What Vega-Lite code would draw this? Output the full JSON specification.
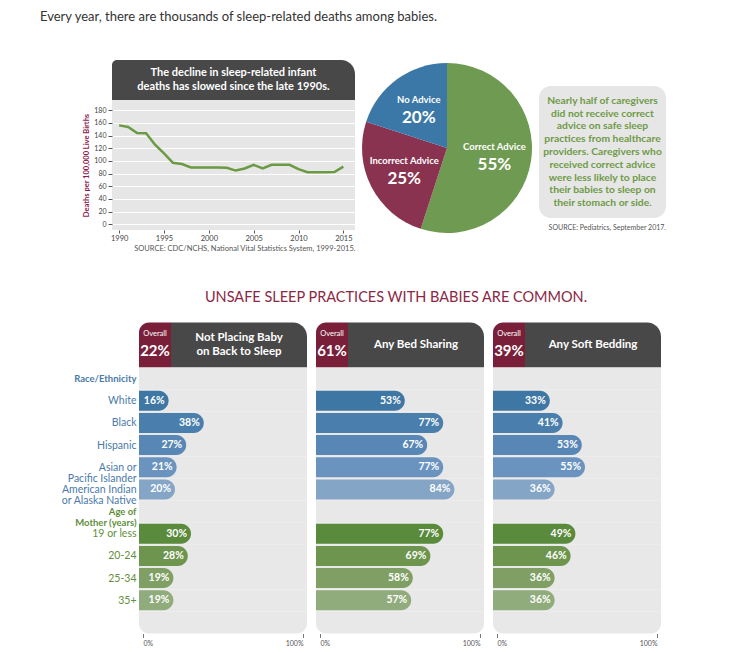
{
  "$schema": "https://vega.github.io/schema/vega-lite/v6.json",
  "background": "white",
  "padding": {"left": 5, "top": 11, "right": 5, "bottom": 2},
  "config": {
    "view": {"stroke": null},
    "font": "Lato",
    "axis": {"labelFont": "Lato", "titleFont": "Lato"},
    "title": {"font": "Lato"}
  },
  "title": {
    "text": "Every year, there are thousands of sleep-related deaths among babies.",
    "anchor": "start", "dx": 35, "fontSize": 13, "fontWeight": "normal", "color": "#333333", "offset": 36
  },
  "resolve": {"scale": {"color": "independent"}},
  "align": "none",
  "datasets": {
    "rows": [
      {"group": "Race/Ethnicity"}, {"group": "White"}, {"group": "Black"}, {"group": "Hispanic"},
      {"group": "Asian or Pacific Islander"}, {"group": "American Indian or Alaska Native"},
      {"group": "Age of Mother (years)"}, {"group": "19 or less"}, {"group": "20-24"}, {"group": "25-34"},
      {"group": "35+"}, {"group": "blank"}
    ],
    "p1": [
      {"group": "White", "pct": 0.16}, {"group": "Black", "pct": 0.38}, {"group": "Hispanic", "pct": 0.27},
      {"group": "Asian or Pacific Islander", "pct": 0.21}, {"group": "American Indian or Alaska Native", "pct": 0.20},
      {"group": "19 or less", "pct": 0.30}, {"group": "20-24", "pct": 0.28}, {"group": "25-34", "pct": 0.19}, {"group": "35+", "pct": 0.19}
    ],
    "p2": [
      {"group": "White", "pct": 0.53}, {"group": "Black", "pct": 0.77}, {"group": "Hispanic", "pct": 0.67},
      {"group": "Asian or Pacific Islander", "pct": 0.77}, {"group": "American Indian or Alaska Native", "pct": 0.84},
      {"group": "19 or less", "pct": 0.77}, {"group": "20-24", "pct": 0.69}, {"group": "25-34", "pct": 0.58}, {"group": "35+", "pct": 0.57}
    ],
    "p3": [
      {"group": "White", "pct": 0.33}, {"group": "Black", "pct": 0.41}, {"group": "Hispanic", "pct": 0.53},
      {"group": "Asian or Pacific Islander", "pct": 0.55}, {"group": "American Indian or Alaska Native", "pct": 0.36},
      {"group": "19 or less", "pct": 0.49}, {"group": "20-24", "pct": 0.46}, {"group": "25-34", "pct": 0.36}, {"group": "35+", "pct": 0.36}
    ]
  },
  "spacing": 37.5,
  "vconcat": [
    {
      "spacing": 4,
      "align": "none",
      "hconcat": [
        {"width": 73, "height": 10, "data": {"values": []}, "mark": "point"},
        {
          "spacing": 0,
          "vconcat": [
            {
              "width": 243, "height": 40,
              "data": {"values": [{"headline": "The decline in sleep-related infant\ndeaths has slowed since the late 1990s."}]},
              "layer": [
                {"mark": {"type": "rect", "color": "#484848", "cornerRadiusTopLeft": 5, "cornerRadiusTopRight": 14}, "encoding": {}},
                {"mark": {"type": "text", "color": "white", "font": "Lato", "fontWeight": "bold", "fontSize": 11, "lineBreak": "\n", "lineHeight": 14, "baseline": "middle", "align": "center", "dy": -7},
                 "encoding": {"text": {"field": "headline"}}}
              ]
            },
            {
              "width": 243, "height": 130,
              "view": {"fill": "#e6e6e6", "stroke": null},
              "data": {"values": [
                {"year": 1990, "rate": 156}, {"year": 1991, "rate": 153.5}, {"year": 1992, "rate": 144}, {"year": 1993, "rate": 143.5},
                {"year": 1994, "rate": 125.5}, {"year": 1995, "rate": 112}, {"year": 1996, "rate": 97}, {"year": 1997, "rate": 95},
                {"year": 1998, "rate": 89.5}, {"year": 1999, "rate": 89.5}, {"year": 2000, "rate": 89.5}, {"year": 2001, "rate": 89.5},
                {"year": 2002, "rate": 89}, {"year": 2003, "rate": 84.7}, {"year": 2004, "rate": 88}, {"year": 2005, "rate": 93.7},
                {"year": 2006, "rate": 88}, {"year": 2007, "rate": 93.7}, {"year": 2008, "rate": 93.7}, {"year": 2009, "rate": 93.7},
                {"year": 2010, "rate": 87}, {"year": 2011, "rate": 82}, {"year": 2012, "rate": 82}, {"year": 2013, "rate": 82},
                {"year": 2014, "rate": 82.5}, {"year": 2015, "rate": 91}
              ]},
              "mark": {"type": "line", "color": "#6a9a42", "strokeWidth": 2.5},
              "encoding": {
                "x": {"field": "year", "type": "quantitative",
                  "scale": {"domain": [1989.2, 2016.3], "nice": false, "zero": false},
                  "axis": {"values": [1990, 1995, 2000, 2005, 2010, 2015], "format": "d", "grid": false, "domain": false,
                    "tickSize": 3, "tickColor": "#555555", "labelFontSize": 7.5, "labelColor": "#444444", "labelPadding": 1, "labelFlush": false,
                    "title": "SOURCE:  CDC/NCHS, National Vital Statistics System, 1999-2015.", "titleAnchor": "end",
                    "titleFontSize": 7.5, "titleFontWeight": "normal", "titleColor": "#555555", "titlePadding": 3}},
                "y": {"field": "rate", "type": "quantitative",
                  "scale": {"domain": [-9, 196], "nice": false},
                  "axis": {"values": [0, 20, 40, 60, 80, 100, 120, 140, 160, 180], "grid": true, "gridColor": "white", "gridWidth": 1.2,
                    "domain": false, "tickSize": 4, "tickColor": "#555555", "labelFontSize": 7, "labelColor": "#444444", "labelPadding": 2,
                    "title": "Deaths per 100,000 Live Births", "titleColor": "#8b1a4c", "titleFontSize": 7.5, "titleFontWeight": "bold", "titlePadding": 3}}
              }
            }
          ]
        },
        {
          "width": 176, "height": 176,
          "data": {"values": [
            {"advice": "Correct Advice", "share": 0.55},
            {"advice": "Incorrect Advice", "share": 0.25},
            {"advice": "No Advice", "share": 0.20}
          ]},
          "encoding": {
            "theta": {"field": "share", "type": "quantitative", "stack": true},
            "order": {"field": "advice", "type": "nominal", "sort": "ascending"},
            "color": {"field": "advice", "type": "nominal",
              "scale": {"domain": ["Correct Advice", "Incorrect Advice", "No Advice"], "range": ["#6f9a51", "#8a3350", "#3b78a8"]},
              "legend": null}
          },
          "layer": [
            {"mark": {"type": "arc", "outerRadius": 85}},
            {"mark": {"type": "text", "radius": 48, "dy": -9, "fontSize": 9.5, "fontWeight": "bold", "font": "Lato"},
             "encoding": {"text": {"field": "advice"}, "color": {"value": "white"}}},
            {"mark": {"type": "text", "radius": 48, "dy": 9, "fontSize": 17, "fontWeight": "bold", "font": "Lato"},
             "encoding": {"text": {"field": "share", "type": "quantitative", "format": ".0%"}, "color": {"value": "white"}}}
          ]
        },
        {
          "spacing": 5,
          "vconcat": [
            {"width": 127, "height": 21, "data": {"values": []}, "mark": "point"},
            {
              "width": 127, "height": 132,
              "title": {"text": "SOURCE: Pediatrics, September 2017.", "orient": "bottom", "anchor": "end", "fontSize": 7, "fontWeight": "normal", "color": "#555555", "offset": 6},
              "data": {"values": [{"note": "Nearly half of caregivers\ndid not receive correct\nadvice on safe sleep\npractices from healthcare\nproviders. Caregivers who\nreceived correct advice\nwere less likely to place\ntheir babies to sleep on\ntheir stomach or side."}]},
              "layer": [
                {"mark": {"type": "rect", "color": "#e6e6e6", "cornerRadius": 12}, "encoding": {}},
                {"mark": {"type": "text", "color": "#6f9a46", "fontWeight": "bold", "fontSize": 10.3, "font": "Lato", "lineBreak": "\n", "lineHeight": 12.8, "baseline": "middle", "align": "center", "dy": -51.2},
                 "encoding": {"text": {"field": "note"}}}
              ]
            }
          ]
        }
      ]
    },
    {
      "title": {"text": "UNSAFE SLEEP PRACTICES WITH BABIES ARE COMMON.", "anchor": "middle", "dx": 63, "fontSize": 14.5, "fontWeight": "normal", "color": "#8b2846", "offset": 17.5},
      "spacing": 3,
      "align": "none",
      "hconcat": [
        {
          "spacing": 0,
          "vconcat": [
            {"width": 131, "height": 45, "data": {"values": []}, "mark": "point"},
            {
              "width": 131, "height": 266,
              "data": {"name": "rows"},
              "mark": {"type": "point", "opacity": 0},
              "encoding": {
                "y": {"field": "group", "type": "nominal",
                  "scale": {"domain": ["Race/Ethnicity", "White", "Black", "Hispanic", "Asian or Pacific Islander", "American Indian or Alaska Native", "Age of Mother (years)", "19 or less", "20-24", "25-34", "35+", "blank"], "paddingInner": 0, "paddingOuter": 0},
                  "axis": {"orient": "right", "labelAlign": "right", "title": null, "domain": false, "ticks": false, "tickSize": 0, "grid": false, "labelPadding": 0, "labelLimit": 0,
                    "labelLineHeight": 11,
                    "labelExpr": "datum.value == 'Asian or Pacific Islander' ? ['Asian or', 'Pacific Islander'] : datum.value == 'American Indian or Alaska Native' ? ['American Indian', 'or Alaska Native'] : datum.value == 'Age of Mother (years)' ? ['Age of', 'Mother (years)'] : datum.value == 'blank' ? '' : datum.label",
                    "labelFontSize": {"condition": {"test": "datum.value == 'Race/Ethnicity' || datum.value == 'Age of Mother (years)'", "value": 9.5}, "value": 10.5},
                    "labelFontWeight": {"condition": {"test": "datum.value == 'Race/Ethnicity' || datum.value == 'Age of Mother (years)'", "value": "bold"}, "value": "normal"},
                    "labelColor": {"condition": {"test": "indexof(['Age of Mother (years)', '19 or less', '20-24', '25-34', '35+'], datum.value) >= 0", "value": "#5f8f3c"}, "value": "#4a7aaa"}
                  }}
              }
            }
          ]
        },
        {
          "spacing": 9,
          "hconcat": [
            {
              "spacing": 0,
              "vconcat": [
                {
                  "spacing": 0,
                  "hconcat": [
                    {"width": 32, "height": 45, "data": {"values": [{"caption": "Overall", "overall": "22%"}]},
                     "layer": [
                       {"mark": {"type": "rect", "color": "#7a1f3a", "cornerRadiusTopLeft": 10}, "encoding": {}},
                       {"mark": {"type": "text", "color": "white", "fontSize": 7.5, "dy": -11}, "encoding": {"text": {"field": "caption"}}},
                       {"mark": {"type": "text", "color": "white", "fontSize": 15, "dy": 6, "fontWeight": "bold"}, "encoding": {"text": {"field": "overall"}}}
                     ]},
                    {"width": 136, "height": 45, "data": {"values": [{"practice": "Not Placing Baby\non Back to Sleep"}]},
                     "layer": [
                       {"mark": {"type": "rect", "color": "#484848", "cornerRadiusTopRight": 14}, "encoding": {}},
                       {"mark": {"type": "text", "color": "white", "fontSize": 11.5, "fontWeight": "bold", "lineBreak": "\n", "lineHeight": 14, "baseline": "middle", "dy": -7}, "encoding": {"text": {"field": "practice"}}}
                     ]}
                  ]
                },
                {
                  "width": 168, "height": 266,
                  "encoding": {
                    "y": {"field": "group", "type": "nominal",
                      "scale": {"domain": ["Race/Ethnicity", "White", "Black", "Hispanic", "Asian or Pacific Islander", "American Indian or Alaska Native", "Age of Mother (years)", "19 or less", "20-24", "25-34", "35+", "blank"], "paddingInner": 0, "paddingOuter": 0},
                      "axis": null}
                  },
                  "layer": [
                    {"data": {"name": "rows"}, "transform": [{"filter": "datum.group != 'blank'"}], "mark": {"type": "bar", "color": "#e8e8e8", "size": 20}},
                    {"data": {"name": "rows"}, "transform": [{"filter": "datum.group == 'blank'"}], "mark": {"type": "bar", "color": "#e8e8e8", "size": 21, "cornerRadiusBottomLeft": 10, "cornerRadiusBottomRight": 10}},
                    {"data": {"name": "p1"}, "mark": {"type": "bar", "size": 20, "cornerRadiusTopRight": 10, "cornerRadiusBottomRight": 10},
                     "encoding": {
                       "x": {"field": "pct", "type": "quantitative", "scale": {"domain": [-0.025, 1.025], "nice": false, "zero": false},
                         "axis": {"values": [0, 1], "format": ".0%", "domain": false, "grid": false, "tickSize": 4, "tickColor": "#777777", "labelFontSize": 7, "labelColor": "#555555", "labelFlush": 6, "title": null, "labelPadding": 2}},
                       "x2": {"datum": -0.025},
                       "color": {"field": "group", "type": "nominal", "legend": null,
                         "scale": {"domain": ["White", "Black", "Hispanic", "Asian or Pacific Islander", "American Indian or Alaska Native", "19 or less", "20-24", "25-34", "35+"],
                           "range": ["#3f77a4", "#4a7fad", "#5887b5", "#6a94bf", "#85a5c7", "#5a8a3b", "#6d954e", "#809f65", "#91ac7c"]}}
                     }},
                    {"data": {"name": "p1"}, "mark": {"type": "text", "align": "right", "dx": -4, "color": "white", "fontWeight": "bold", "fontSize": 10.5},
                     "encoding": {"x": {"field": "pct", "type": "quantitative"}, "text": {"field": "pct", "type": "quantitative", "format": ".0%"}}}
                  ]
                }
              ]
            },
            {
              "spacing": 0,
              "vconcat": [
                {
                  "spacing": 0,
                  "hconcat": [
                    {"width": 32, "height": 45, "data": {"values": [{"caption": "Overall", "overall": "61%"}]},
                     "layer": [
                       {"mark": {"type": "rect", "color": "#7a1f3a", "cornerRadiusTopLeft": 10}, "encoding": {}},
                       {"mark": {"type": "text", "color": "white", "fontSize": 7.5, "dy": -11}, "encoding": {"text": {"field": "caption"}}},
                       {"mark": {"type": "text", "color": "white", "fontSize": 15, "dy": 6, "fontWeight": "bold"}, "encoding": {"text": {"field": "overall"}}}
                     ]},
                    {"width": 136, "height": 45, "data": {"values": [{"practice": "Any Bed Sharing"}]},
                     "layer": [
                       {"mark": {"type": "rect", "color": "#484848", "cornerRadiusTopRight": 14}, "encoding": {}},
                       {"mark": {"type": "text", "color": "white", "fontSize": 11.5, "fontWeight": "bold", "baseline": "middle"}, "encoding": {"text": {"field": "practice"}}}
                     ]}
                  ]
                },
                {
                  "width": 168, "height": 266,
                  "encoding": {
                    "y": {"field": "group", "type": "nominal",
                      "scale": {"domain": ["Race/Ethnicity", "White", "Black", "Hispanic", "Asian or Pacific Islander", "American Indian or Alaska Native", "Age of Mother (years)", "19 or less", "20-24", "25-34", "35+", "blank"], "paddingInner": 0, "paddingOuter": 0},
                      "axis": null}
                  },
                  "layer": [
                    {"data": {"name": "rows"}, "transform": [{"filter": "datum.group != 'blank'"}], "mark": {"type": "bar", "color": "#e8e8e8", "size": 20}},
                    {"data": {"name": "rows"}, "transform": [{"filter": "datum.group == 'blank'"}], "mark": {"type": "bar", "color": "#e8e8e8", "size": 21, "cornerRadiusBottomLeft": 10, "cornerRadiusBottomRight": 10}},
                    {"data": {"name": "p2"}, "mark": {"type": "bar", "size": 20, "cornerRadiusTopRight": 10, "cornerRadiusBottomRight": 10},
                     "encoding": {
                       "x": {"field": "pct", "type": "quantitative", "scale": {"domain": [-0.025, 1.025], "nice": false, "zero": false},
                         "axis": {"values": [0, 1], "format": ".0%", "domain": false, "grid": false, "tickSize": 4, "tickColor": "#777777", "labelFontSize": 7, "labelColor": "#555555", "labelFlush": 6, "title": null, "labelPadding": 2}},
                       "x2": {"datum": -0.025},
                       "color": {"field": "group", "type": "nominal", "legend": null,
                         "scale": {"domain": ["White", "Black", "Hispanic", "Asian or Pacific Islander", "American Indian or Alaska Native", "19 or less", "20-24", "25-34", "35+"],
                           "range": ["#3f77a4", "#4a7fad", "#5887b5", "#6a94bf", "#85a5c7", "#5a8a3b", "#6d954e", "#809f65", "#91ac7c"]}}
                     }},
                    {"data": {"name": "p2"}, "mark": {"type": "text", "align": "right", "dx": -4, "color": "white", "fontWeight": "bold", "fontSize": 10.5},
                     "encoding": {"x": {"field": "pct", "type": "quantitative"}, "text": {"field": "pct", "type": "quantitative", "format": ".0%"}}}
                  ]
                }
              ]
            },
            {
              "spacing": 0,
              "vconcat": [
                {
                  "spacing": 0,
                  "hconcat": [
                    {"width": 32, "height": 45, "data": {"values": [{"caption": "Overall", "overall": "39%"}]},
                     "layer": [
                       {"mark": {"type": "rect", "color": "#7a1f3a", "cornerRadiusTopLeft": 10}, "encoding": {}},
                       {"mark": {"type": "text", "color": "white", "fontSize": 7.5, "dy": -11}, "encoding": {"text": {"field": "caption"}}},
                       {"mark": {"type": "text", "color": "white", "fontSize": 15, "dy": 6, "fontWeight": "bold"}, "encoding": {"text": {"field": "overall"}}}
                     ]},
                    {"width": 136, "height": 45, "data": {"values": [{"practice": "Any Soft Bedding"}]},
                     "layer": [
                       {"mark": {"type": "rect", "color": "#484848", "cornerRadiusTopRight": 14}, "encoding": {}},
                       {"mark": {"type": "text", "color": "white", "fontSize": 11.5, "fontWeight": "bold", "baseline": "middle"}, "encoding": {"text": {"field": "practice"}}}
                     ]}
                  ]
                },
                {
                  "width": 168, "height": 266,
                  "encoding": {
                    "y": {"field": "group", "type": "nominal",
                      "scale": {"domain": ["Race/Ethnicity", "White", "Black", "Hispanic", "Asian or Pacific Islander", "American Indian or Alaska Native", "Age of Mother (years)", "19 or less", "20-24", "25-34", "35+", "blank"], "paddingInner": 0, "paddingOuter": 0},
                      "axis": null}
                  },
                  "layer": [
                    {"data": {"name": "rows"}, "transform": [{"filter": "datum.group != 'blank'"}], "mark": {"type": "bar", "color": "#e8e8e8", "size": 20}},
                    {"data": {"name": "rows"}, "transform": [{"filter": "datum.group == 'blank'"}], "mark": {"type": "bar", "color": "#e8e8e8", "size": 21, "cornerRadiusBottomLeft": 10, "cornerRadiusBottomRight": 10}},
                    {"data": {"name": "p3"}, "mark": {"type": "bar", "size": 20, "cornerRadiusTopRight": 10, "cornerRadiusBottomRight": 10},
                     "encoding": {
                       "x": {"field": "pct", "type": "quantitative", "scale": {"domain": [-0.025, 1.025], "nice": false, "zero": false},
                         "axis": {"values": [0, 1], "format": ".0%", "domain": false, "grid": false, "tickSize": 4, "tickColor": "#777777", "labelFontSize": 7, "labelColor": "#555555", "labelFlush": 6, "title": null, "labelPadding": 2}},
                       "x2": {"datum": -0.025},
                       "color": {"field": "group", "type": "nominal", "legend": null,
                         "scale": {"domain": ["White", "Black", "Hispanic", "Asian or Pacific Islander", "American Indian or Alaska Native", "19 or less", "20-24", "25-34", "35+"],
                           "range": ["#3f77a4", "#4a7fad", "#5887b5", "#6a94bf", "#85a5c7", "#5a8a3b", "#6d954e", "#809f65", "#91ac7c"]}}
                     }},
                    {"data": {"name": "p3"}, "mark": {"type": "text", "align": "right", "dx": -4, "color": "white", "fontWeight": "bold", "fontSize": 10.5},
                     "encoding": {"x": {"field": "pct", "type": "quantitative"}, "text": {"field": "pct", "type": "quantitative", "format": ".0%"}}}
                  ]
                }
              ]
            }
          ]
        }
      ]
    }
  ]
}
